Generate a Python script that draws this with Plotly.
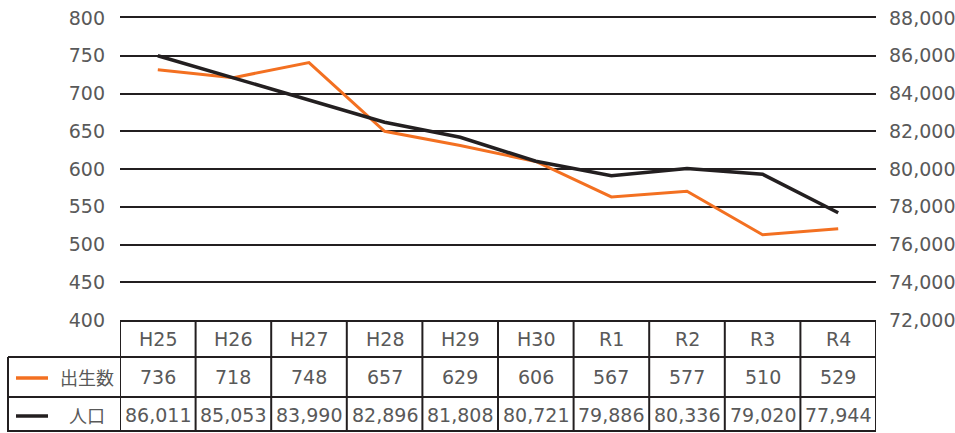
import plotly.graph_objects as go

categories = ["H25", "H26", "H27", "H28", "H29", "H30", "R1", "R2", "R3", "R4"]
# values printed in the table
births = [736, 718, 748, 657, 629, 606, 567, 577, 510, 529]
population = [86011, 85053, 83990, 82896, 81808, 80721, 79886, 80336, 79020, 77944]
# values as drawn by the lines
births_line = [731.5, 721, 741, 650, 631, 610, 563, 570.5, 513, 521]
population_line = [86000, 84820, 83640, 82480, 81680, 80410, 79640, 80020, 79720, 77680]
births_name = "出生数"
pop_name = "人口"

ORANGE = "#F37021"
BLACK = "#231F20"
GRAY = "#595959"
NUM_FONT = "DejaVu Sans"
JP_FONT = "Noto Sans CJK JP"

W, H = 955, 433
L, R, T, B = 120, 876, 18, 320  # plot area in pixels
PW, PH = R - L, B - T

def py(p):  # pixel y -> paper y
    return (B - p) / PH

def px(p):  # pixel x -> paper x
    return (p - L) / PW

n = len(categories)
xs = list(range(n))

fig = go.Figure()
fig.add_trace(go.Scatter(x=xs, y=births_line, mode="lines", name=births_name,
                         line=dict(color=ORANGE, width=3), yaxis="y"))
fig.add_trace(go.Scatter(x=xs, y=population_line, mode="lines", name=pop_name,
                         line=dict(color=BLACK, width=3.5), yaxis="y2"))

shapes = []
line_style = dict(color=BLACK, width=2)
# table horizontal lines
for yy in (357, 397, 431):
    shapes.append(dict(type="line", xref="paper", yref="paper", x0=px(8), x1=1, y0=py(yy), y1=py(yy), line=line_style))
# table vertical lines at category boundaries
for k in range(n + 1):
    shapes.append(dict(type="line", xref="x", yref="paper", x0=k - 0.5, x1=k - 0.5,
                       y0=py(320), y1=py(432), line=line_style))
shapes.append(dict(type="line", xref="paper", yref="paper", x0=px(8), x1=px(8),
                   y0=py(357), y1=py(432), line=line_style))
# legend keys
shapes.append(dict(type="line", xref="paper", yref="paper", x0=px(16), x1=px(48),
                   y0=py(378), y1=py(378), line=dict(color=ORANGE, width=3.5)))
shapes.append(dict(type="line", xref="paper", yref="paper", x0=px(16), x1=px(48),
                   y0=py(416), y1=py(416), line=dict(color=BLACK, width=3.5)))

annotations = []
row_y = [338.5, 377, 415]
num_font = dict(family=NUM_FONT, size=19, color=GRAY)
for i, c in enumerate(categories):
    for row, txt in enumerate((c, str(births[i]), f"{population[i]:,}")):
        annotations.append(dict(x=i, y=py(row_y[row]), xref="x", yref="paper", text=txt, showarrow=False,
                                xanchor="center", yanchor="middle", font=num_font))
jp_font = dict(family=JP_FONT, size=18, color=GRAY)
annotations.append(dict(x=px(87), y=py(row_y[1]), xref="paper", yref="paper", text=births_name, showarrow=False,
                        xanchor="center", yanchor="middle", font=jp_font))
annotations.append(dict(x=px(87), y=py(row_y[2]), xref="paper", yref="paper", text=pop_name, showarrow=False,
                        xanchor="center", yanchor="middle", font=jp_font))

fig.update_layout(
    width=W, height=H,
    margin=dict(l=L, r=W - R, t=T, b=H - B, pad=0, autoexpand=False),
    paper_bgcolor="white", plot_bgcolor="white",
    showlegend=False,
    xaxis=dict(range=[-0.5, n - 0.5], showticklabels=False, showgrid=False, zeroline=False,
               showline=True, mirror=True, linecolor=BLACK, linewidth=2, ticks="", automargin=False),
    yaxis=dict(range=[400, 800], dtick=50, tick0=400, showgrid=True, gridcolor=BLACK, gridwidth=2,
               zeroline=False, showline=False, ticks="", ticklabelstandoff=14, automargin=False,
               tickfont=num_font),
    yaxis2=dict(range=[72000, 88000], dtick=2000, tick0=72000, overlaying="y", side="right",
                showgrid=False, zeroline=False, showline=False, ticks="", tickformat=",d",
                ticklabelstandoff=12, automargin=False, tickfont=num_font),
    shapes=shapes,
    annotations=annotations,
)

fig.write_html("out.html", config={"displayModeBar": False},
               post_script="document.body.style.margin='0';document.body.style.overflow='hidden';")
